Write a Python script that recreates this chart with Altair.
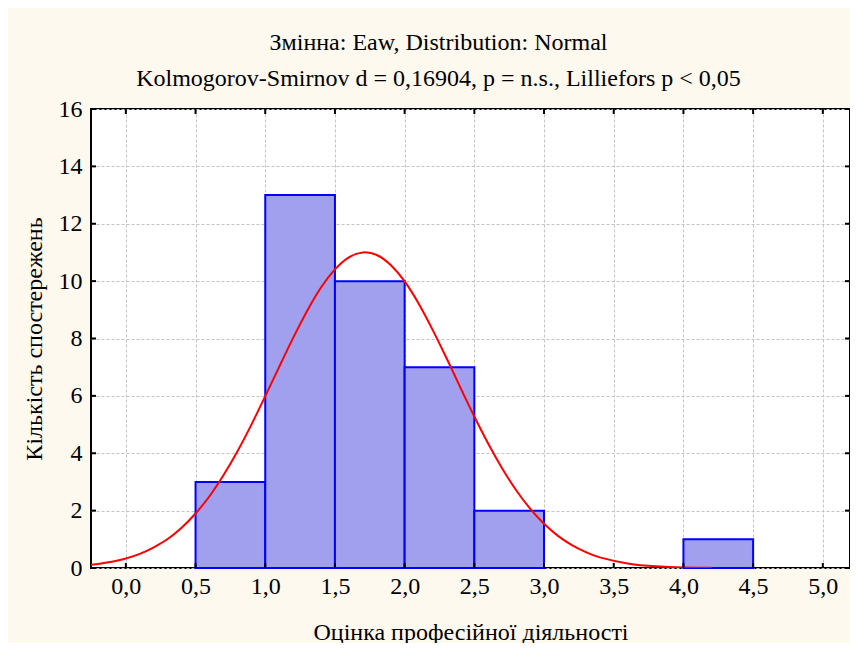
import altair as alt
import pandas as pd

# Histogram bins (left edge, right edge, count)
bin_start = [0.5, 1.0, 1.5, 2.0, 2.5, 4.0]
bin_end = [1.0, 1.5, 2.0, 2.5, 3.0, 4.5]
counts = [3, 13, 10, 7, 2, 1]

# Fitted normal curve
curve_x = [-0.25, -0.1, 0.0, 0.1, 0.2, 0.3, 0.4, 0.5, 0.6, 0.7, 0.8, 0.9, 1.0,
           1.1, 1.2, 1.3, 1.4, 1.5, 1.6, 1.7, 1.8, 1.9, 2.0, 2.1, 2.2, 2.3,
           2.4, 2.5, 2.6, 2.7, 2.8, 2.9, 3.0, 3.1, 3.2, 3.3, 3.4, 3.6, 3.8,
           4.0, 4.2]
curve_y = [0.11, 0.22, 0.33, 0.49, 0.72, 1.01, 1.40, 1.90, 2.50, 3.23, 4.06,
           4.99, 5.99, 7.01, 8.02, 8.96, 9.78, 10.41, 10.83, 11.00, 10.91,
           10.56, 9.99, 9.22, 8.31, 7.32, 6.29, 5.28, 4.33, 3.47, 2.71, 2.07,
           1.54, 1.12, 0.80, 0.55, 0.37, 0.16, 0.06, 0.02, 0.01]

x_ticks = [0.0, 0.5, 1.0, 1.5, 2.0, 2.5, 3.0, 3.5, 4.0, 4.5, 5.0]
y_ticks = [0, 2, 4, 6, 8, 10, 12, 14, 16]

title_lines = ["Змінна: Eaw, Distribution: Normal",
               "Kolmogorov-Smirnov d = 0,16904, p = n.s., Lilliefors p < 0,05"]
x_title = "Оцінка професійної діяльності"
y_title = "Кількість спостережень"

FONT = "Liberation Serif"
FS = 24
W, H = 759, 459

bars_df = pd.DataFrame({"x0": bin_start, "x1": bin_end, "n": counts})
curve_df = pd.DataFrame({"x": curve_x, "y": curve_y})
xt_df = pd.DataFrame({"t": x_ticks})
yt_df = pd.DataFrame({"t": y_ticks})

xscale = alt.Scale(domain=[-0.25, 5.195], nice=False, zero=False)
yscale = alt.Scale(domain=[0, 16], nice=False)

bars = alt.Chart(bars_df).mark_rect(
    fill="#a0a0ee", stroke="#0000ff", strokeWidth=2
).encode(
    x=alt.X("x0:Q", scale=xscale,
            axis=alt.Axis(values=x_ticks, title=x_title,
                          labelExpr="replace(format(datum.value, '.1f'), '.', ',')",
                          grid=True, gridColor="#c4c4c4", gridDash=[3, 2],
                          gridWidth=1, ticks=False, domain=False,
                          labelFontSize=FS, labelPadding=6, labelColor="black",
                          titleFontSize=FS, titlePadding=22,
                          titleFontWeight="normal", titleColor="black",
                          labelFont=FONT, titleFont=FONT)),
    x2="x1:Q",
    y=alt.Y("n:Q", scale=yscale,
            axis=alt.Axis(values=y_ticks, title=y_title,
                          grid=True, gridColor="#c4c4c4", gridDash=[3, 2],
                          gridWidth=1, ticks=False, domain=False,
                          labelFontSize=FS, labelPadding=9, labelColor="black",
                          titleFontSize=FS, titlePadding=12,
                          titleFontWeight="normal", titleColor="black",
                          labelFont=FONT, titleFont=FONT)),
    y2=alt.datum(0),
)

curve = alt.Chart(curve_df).mark_line(
    color="#ff0000", strokeWidth=2, interpolate="natural", clip=True
).encode(x=alt.X("x:Q", scale=xscale), y=alt.Y("y:Q", scale=yscale))

tick_style = dict(color="black", strokeWidth=2)
bottom_ticks = alt.Chart(xt_df).mark_rule(**tick_style).encode(
    x=alt.X("t:Q", scale=xscale), y=alt.value(H), y2=alt.value(H - 5))
top_ticks = alt.Chart(xt_df).mark_rule(**tick_style).encode(
    x=alt.X("t:Q", scale=xscale), y=alt.value(0), y2=alt.value(5))
left_ticks = alt.Chart(yt_df).mark_rule(**tick_style).encode(
    y=alt.Y("t:Q", scale=yscale), x=alt.value(0), x2=alt.value(5))
right_ticks = alt.Chart(yt_df).mark_rule(**tick_style).encode(
    y=alt.Y("t:Q", scale=yscale), x=alt.value(W), x2=alt.value(W - 5))

chart = alt.layer(
    bars, curve, bottom_ticks, top_ticks, left_ticks, right_ticks
).properties(
    width=W, height=H,
    autosize=alt.AutoSizeParams(type="none"),
    padding={"left": 83, "top": 101, "right": 0, "bottom": 75},
    background="#fdf9ef",
    title=alt.TitleParams(text=title_lines, font=FONT, fontSize=FS,
                          fontWeight="normal", color="black",
                          lineHeight=36, anchor="middle", dx=-32, offset=6),
).configure_view(
    fill="white", stroke="black", strokeWidth=2
)

chart.save("out.html", embed_options={"renderer": "svg", "actions": False})
